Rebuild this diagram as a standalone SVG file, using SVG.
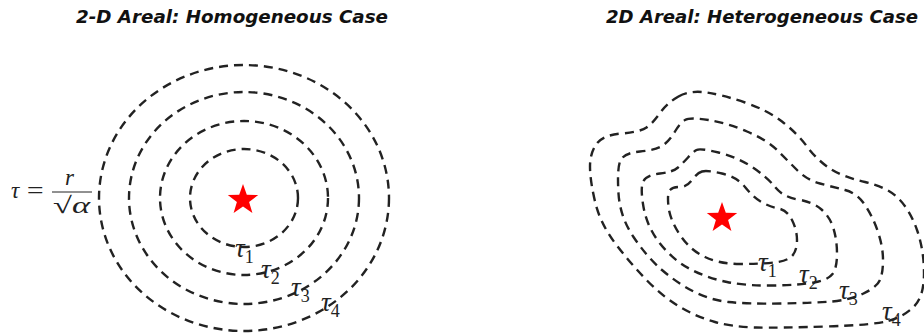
<svg xmlns="http://www.w3.org/2000/svg" width="924" height="335" viewBox="0 0 924 335">
<style>
.title{font-family:"DejaVu Sans",sans-serif;font-weight:bold;font-style:italic;font-size:17px;fill:#111}
.c{fill:none;stroke:#222;stroke-width:2.4;stroke-dasharray:9 6}
.lab{font-family:"Liberation Serif","DejaVu Serif",serif;font-style:italic;font-size:27px;fill:#222}
.sub{font-size:18px;font-style:normal}
.f{font-family:"Liberation Serif","DejaVu Serif",serif;font-style:italic;font-size:23px;fill:#222}
.star{fill:#f00}
</style>
<defs>
<polygon id="star" points="0,-16 3.8,-5.2 15.2,-4.9 6.1,2 9.4,12.9 0,6.5 -9.4,12.9 -6.1,2 -15.2,-4.9 -3.8,-5.2"/>
</defs>
<rect width="924" height="335" fill="#fff"/>
<g id="titles">
<text class="title" x="76" y="23" textLength="312" lengthAdjust="spacingAndGlyphs">2-D Areal: Homogeneous Case</text>
<text class="title" x="606" y="23" textLength="312" lengthAdjust="spacingAndGlyphs">2D Areal: Heterogeneous Case</text>
</g>
<g id="connectors">
<ellipse class="c" cx="244" cy="198" rx="54" ry="49"/>
<ellipse class="c" cx="244" cy="198" rx="84" ry="77"/>
<ellipse class="c" cx="244" cy="198" rx="115" ry="106"/>
<ellipse class="c" cx="244" cy="198" rx="145" ry="133"/>
<path class="c" d="M678.5,96.5 Q690,90 706.5,92.5 Q723,95 745,102.5 Q767,110 782,121.5 Q797,133 807,146.5 Q817,160 830,168.5 Q843,177 865,182 Q887,187 898.5,198.5 Q910,210 917,230 Q924,250 924,273.5 Q924,297 913.5,307 Q903,317 888,321 Q873,325 826.5,326.5 Q780,328 756.5,327.5 Q733,327 715,322 Q697,317 680,307 Q663,297 646.5,280 Q630,263 615,243 Q600,223 595,201.5 Q590,180 590,166.5 Q590,153 596.5,144 Q603,135 621.5,133.5 Q640,132 646.5,127.5 Q653,123 660,113 Q667,103 678.5,96.5 Z"/>
<path class="c" d="M685,120 Q690,117 708.5,120 Q727,123 747,131.5 Q767,140 777,150 Q787,160 797,170 Q807,180 820,183.5 Q833,187 845,190 Q857,193 865,205 Q873,217 878,232 Q883,247 883,260 Q883,273 880,280 Q877,287 863.5,293.5 Q850,300 831.5,301.5 Q813,303 780,303.5 Q747,304 728.5,302 Q710,300 693.5,291.5 Q677,283 662,270 Q647,257 633.5,237 Q620,217 618.5,193.5 Q617,170 620,161.5 Q623,153 640,151.5 Q657,150 663.5,145 Q670,140 675,131.5 Q680,123 685,120 Z"/>
<path class="c" d="M696.5,150 Q700,148 718.5,152.5 Q737,157 752,167 Q767,177 775,187 Q783,197 798,199.5 Q813,202 821.5,209.5 Q830,217 833.5,228.5 Q837,240 837,254 Q837,268 832.5,274 Q828,280 814,282.5 Q800,285 773.5,285.5 Q747,286 727,282 Q707,278 690,269 Q673,260 660,243.5 Q647,227 643.5,207 Q640,187 643.5,181 Q647,175 660,173.5 Q673,172 678,167.5 Q683,163 688,157.5 Q693,152 696.5,150 Z"/>
<path class="c" d="M702,171.5 Q707,170 722,173.5 Q737,177 745,187 Q753,197 761.5,202 Q770,207 778.5,208.5 Q787,210 792,220 Q797,230 797,240 Q797,250 792.5,255.5 Q788,261 774,262.5 Q760,264 740,264 Q720,264 705,257 Q690,250 680,235 Q670,220 668.5,206.5 Q667,193 670,190 Q673,187 680,187 Q687,187 692,180 Q697,173 702,171.5 Z"/>
</g>
<g id="star-left"><use href="#star" class="star" x="243" y="200"/></g>
<g id="star-right"><use href="#star" class="star" x="722" y="218"/></g>
<g id="formula">
<text class="f" x="11" y="198">τ</text>
<text class="f" x="25" y="198" font-style="normal" textLength="20" lengthAdjust="spacingAndGlyphs">=</text>
<text class="f" x="65" y="185">r</text>
<line x1="52" y1="192" x2="92" y2="192" stroke="#222" stroke-width="1"/>
<text class="f" x="53" y="213" font-style="normal" textLength="37" lengthAdjust="spacingAndGlyphs">√<tspan font-style="italic">α</tspan></text>
</g>
<g id="labels-left">
<text class="lab" x="235" y="257">τ<tspan class="sub" dy="6">1</tspan></text>
<text class="lab" x="261" y="278">τ<tspan class="sub" dy="6">2</tspan></text>
<text class="lab" x="291" y="296">τ<tspan class="sub" dy="6">3</tspan></text>
<text class="lab" x="321" y="311">τ<tspan class="sub" dy="6">4</tspan></text>
</g>
<g id="labels-right">
<text class="lab" x="758" y="271">τ<tspan class="sub" dy="6">1</tspan></text>
<text class="lab" x="799" y="283">τ<tspan class="sub" dy="6">2</tspan></text>
<text class="lab" x="839" y="299">τ<tspan class="sub" dy="6">3</tspan></text>
<text class="lab" x="882" y="320">τ<tspan class="sub" dy="6">4</tspan></text>
</g>
</svg>
